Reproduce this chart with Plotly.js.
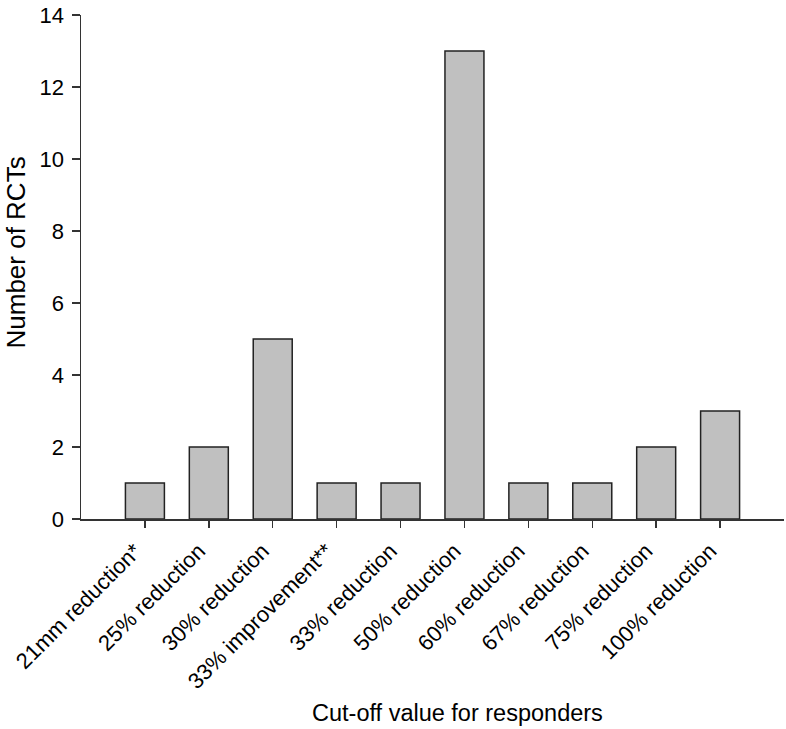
<!DOCTYPE html>
<html>
<head>
<meta charset="utf-8">
<script src="https://cdn.plot.ly/plotly-3.0.1.min.js"></script>
<style>html,body{margin:0;padding:0;background:#fff;}#chart{width:786px;height:729px;}</style>
</head>
<body>
<div id="chart"></div>
<script>
const categories = ["21mm reduction*", "25% reduction", "30% reduction", "33% improvement**", "33% reduction", "50% reduction", "60% reduction", "67% reduction", "75% reduction", "100% reduction"];
const counts = [1, 2, 5, 1, 1, 13, 1, 1, 2, 3];
const yTicks = [0, 2, 4, 6, 8, 10, 12, 14];
const xTitle = "Cut-off value for responders";
const yTitle = "Number of RCTs";

const font = "'Liberation Sans', Arial, Helvetica, sans-serif";
const axisColor = "#333333";

const data = [{
  type: "bar",
  x: categories,
  y: counts,
  width: 0.61,
  marker: {color: "#c0c0c0", line: {color: "#222222", width: 1.5}},
  hoverinfo: "x+y"
}];

const layout = {
  width: 786,
  height: 729,
  margin: {l: 81, r: 2, t: 15, b: 210},
  paper_bgcolor: "#ffffff",
  plot_bgcolor: "#ffffff",
  font: {family: font, color: "#000000", size: 20},
  showlegend: false,
  xaxis: {
    type: "category",
    range: [-1, 10],
    showline: true, linecolor: axisColor, linewidth: 1.5,
    ticks: "outside", ticklen: 7, tickwidth: 1.5, tickcolor: axisColor,
    tickangle: -45,
    ticklabelshift: -10,
    ticklabelstandoff: 2,
    tickfont: {family: font, size: 22, color: "#000"},
    showgrid: false, zeroline: false
  },
  yaxis: {
    range: [0, 14],
    tickvals: yTicks,
    showline: true, linecolor: axisColor, linewidth: 1.5,
    ticks: "outside", ticklen: 8, tickwidth: 1.5, tickcolor: axisColor,
    ticklabelstandoff: 3,
    tickfont: {family: font, size: 22, color: "#000"},
    showgrid: false, zeroline: false
  },
  annotations: [
    {text: xTitle, xref: "paper", yref: "paper", x: 0.535, y: -0.385,
     xanchor: "center", yanchor: "middle", showarrow: false,
     font: {family: font, size: 23.5, color: "#000"}},
    {text: yTitle, xref: "paper", yref: "paper", x: -0.093, y: 0.528,
     xanchor: "center", yanchor: "middle", showarrow: false, textangle: -90,
     font: {family: font, size: 26, color: "#000"}}
  ]
};

Plotly.newPlot("chart", data, layout, {staticPlot: true, displayModeBar: false});
</script>
</body>
</html>
